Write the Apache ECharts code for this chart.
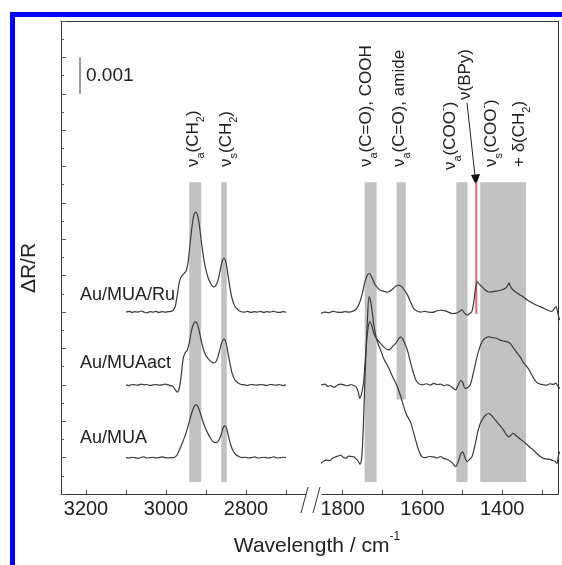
<!DOCTYPE html>
<html>
<head>
<meta charset="utf-8">
<script src="https://cdn.jsdelivr.net/npm/echarts@6/dist/echarts.min.js"></script>
<style>
  html, body { margin: 0; padding: 0; background: #fff; }
  #main { width: 562px; height: 565px; }
</style>
</head>
<body>
<div id="main"></div>
<script>
// spectra, [wavenumber, dR/R in units of 0.001], offset per sample
const ruLeft = [[3100,5.00],[3092,5.02],[3085,4.99],[3078,5.01],[3070,5.00],[3062,5.03],[3055,5.00],[3048,4.98],[3040,5.01],[3032,5.00],[3025,5.02],[3018,4.99],[3010,5.01],[3002,5.00],[2995,5.01],[2988,5.02],[2982,5.05],[2977,5.15],[2972,5.45],[2967,5.8],[2962,5.97],[2956,6.05],[2950,6.12],[2945,6.35],[2940,6.85],[2935,7.35],[2930,7.68],[2925,7.75],[2920,7.6],[2915,7.25],[2910,6.8],[2905,6.42],[2900,6.15],[2895,5.95],[2890,5.82],[2885,5.73],[2880,5.69],[2875,5.74],[2870,5.88],[2865,6.12],[2860,6.38],[2855,6.48],[2850,6.36],[2845,6.02],[2840,5.66],[2835,5.38],[2828,5.16],[2820,5.06],[2812,5.01],[2804,5.00],[2796,5.02],[2788,4.99],[2780,5.01],[2772,5.00],[2764,5.02],[2756,4.99],[2748,5.01],[2740,5.00],[2732,5.02],[2724,5.00],[2716,4.99],[2708,5.01],[2700,5.00]];
const actLeft = [[3100,3.00],[3092,2.98],[3085,3.01],[3078,3.00],[3070,2.99],[3062,3.02],[3055,3.00],[3048,3.01],[3040,2.98],[3032,3.00],[3025,3.01],[3018,2.99],[3010,3.00],[3002,3.02],[2995,3.00],[2988,2.98],[2982,2.95],[2977,2.87],[2972,2.80],[2967,2.90],[2962,3.25],[2957,3.72],[2952,3.88],[2947,3.95],[2942,4.15],[2937,4.45],[2932,4.65],[2926,4.73],[2920,4.62],[2915,4.38],[2910,4.12],[2905,3.93],[2900,3.80],[2893,3.70],[2886,3.63],[2880,3.60],[2875,3.64],[2870,3.78],[2865,3.98],[2860,4.18],[2855,4.26],[2850,4.16],[2845,3.88],[2840,3.58],[2835,3.33],[2828,3.14],[2820,3.05],[2812,3.01],[2804,3.00],[2796,2.98],[2788,3.01],[2780,3.00],[2772,2.99],[2764,3.01],[2756,3.00],[2748,2.98],[2740,3.01],[2732,3.00],[2724,2.99],[2716,3.01],[2708,2.98],[2700,3.00]];
const muaLeft = [[3100,1.00],[3092,0.99],[3085,1.01],[3078,1.00],[3070,0.98],[3062,1.01],[3055,1.02],[3048,0.99],[3040,1.00],[3032,1.01],[3025,0.99],[3018,1.00],[3010,1.02],[3002,1.00],[2995,0.99],[2988,1.00],[2982,1.00],[2977,1.02],[2972,1.08],[2966,1.22],[2960,1.38],[2954,1.55],[2948,1.75],[2942,1.98],[2936,2.22],[2930,2.40],[2925,2.45],[2920,2.40],[2914,2.22],[2908,2.00],[2902,1.82],[2896,1.68],[2890,1.56],[2884,1.46],[2878,1.41],[2872,1.42],[2866,1.52],[2861,1.68],[2856,1.85],[2852,1.87],[2848,1.78],[2843,1.55],[2838,1.34],[2832,1.18],[2825,1.08],[2818,1.03],[2810,1.00],[2802,1.01],[2794,0.99],[2786,1.00],[2778,1.02],[2770,0.99],[2762,1.00],[2754,1.01],[2746,0.99],[2738,1.00],[2730,1.02],[2722,0.99],[2714,1.00],[2706,1.01],[2700,1.00]];

const ruRight = [[1855,4.96],[1845,5.00],[1835,4.98],[1825,5.02],[1815,5.00],[1805,4.99],[1795,5.01],[1785,5.00],[1775,5.02],[1766,5.08],[1758,5.25],[1750,5.55],[1744,5.85],[1738,6.02],[1733,6.06],[1727,5.95],[1720,5.78],[1712,5.66],[1705,5.60],[1697,5.57],[1690,5.55],[1684,5.56],[1676,5.62],[1668,5.70],[1660,5.74],[1652,5.70],[1645,5.60],[1638,5.48],[1630,5.28],[1622,5.10],[1614,5.03],[1605,5.00],[1595,5.02],[1585,5.00],[1575,4.99],[1565,5.03],[1555,5.05],[1545,5.04],[1535,5.00],[1525,4.96],[1515,4.97],[1507,5.02],[1501,5.06],[1495,4.98],[1488,4.92],[1481,4.96],[1476,5.02],[1471,5.3],[1466,5.72],[1462,5.83],[1457,5.76],[1451,5.70],[1444,5.62],[1436,5.56],[1428,5.55],[1420,5.57],[1412,5.58],[1405,5.60],[1398,5.62],[1391,5.66],[1386,5.74],[1383,5.80],[1379,5.70],[1374,5.62],[1366,5.55],[1358,5.49],[1348,5.42],[1338,5.34],[1328,5.27],[1318,5.21],[1305,5.15],[1295,5.10],[1285,5.05],[1276,5.02],[1270,5.08],[1265,5.15],[1260,4.95],[1256,4.78]];
const actRight = [[1855,3.00],[1845,3.02],[1837,2.96],[1830,2.98],[1822,2.93],[1814,2.99],[1806,3.02],[1797,3.00],[1788,2.97],[1780,3.01],[1772,2.98],[1766,2.94],[1761,2.80],[1757,2.63],[1753,2.75],[1748,3.04],[1744,3.6],[1740,4.2],[1736,4.6],[1732,4.73],[1727,4.62],[1722,4.42],[1714,4.25],[1705,4.14],[1696,4.03],[1690,3.98],[1684,3.96],[1676,4.04],[1667,4.15],[1660,4.26],[1655,4.32],[1649,4.25],[1643,4.10],[1638,3.96],[1630,3.62],[1622,3.30],[1616,3.12],[1608,3.02],[1600,3.00],[1590,3.03],[1580,2.99],[1572,3.04],[1563,3.01],[1555,3.02],[1546,2.98],[1538,3.00],[1530,2.97],[1522,2.90],[1517,2.86],[1511,2.98],[1504,3.12],[1499,3.06],[1493,2.90],[1487,2.92],[1480,3.00],[1474,3.25],[1467,3.59],[1460,3.90],[1451,4.18],[1443,4.28],[1434,4.32],[1425,4.30],[1415,4.28],[1405,4.23],[1395,4.20],[1387,4.18],[1380,4.14],[1372,4.02],[1364,3.90],[1355,3.77],[1347,3.62],[1338,3.50],[1330,3.36],[1322,3.20],[1313,3.06],[1305,3.02],[1296,3.00],[1288,2.99],[1280,3.03],[1272,3.01],[1266,3.05],[1260,2.96],[1255,2.90]];
const muaRight = [[1855,0.84],[1848,0.90],[1840,0.93],[1832,0.92],[1826,0.98],[1818,1.02],[1810,1.05],[1805,1.07],[1798,1.00],[1792,0.98],[1785,1.04],[1778,1.03],[1772,1.02],[1766,0.96],[1761,0.90],[1757,0.82],[1753,0.95],[1750,1.4],[1746,2.6],[1742,3.8],[1738,4.8],[1734,5.42],[1730,5.30],[1726,5.00],[1722,4.65],[1718,4.40],[1712,4.15],[1705,3.96],[1697,3.72],[1690,3.58],[1684,3.45],[1676,3.25],[1668,3.07],[1663,2.95],[1655,2.70],[1647,2.40],[1640,2.18],[1630,1.98],[1623,1.72],[1617,1.48],[1610,1.22],[1601,1.02],[1592,1.00],[1583,1.03],[1572,1.02],[1563,0.99],[1555,1.03],[1547,0.98],[1538,0.95],[1530,0.90],[1524,0.84],[1517,0.75],[1510,0.90],[1504,1.10],[1499,1.16],[1494,1.02],[1488,0.89],[1482,0.95],[1476,1.02],[1468,1.35],[1461,1.72],[1455,1.94],[1447,2.10],[1440,2.18],[1434,2.22],[1427,2.16],[1417,2.03],[1407,1.90],[1397,1.76],[1390,1.64],[1384,1.57],[1378,1.62],[1372,1.67],[1365,1.60],[1358,1.54],[1351,1.48],[1340,1.38],[1330,1.28],[1322,1.21],[1312,1.10],[1305,1.04],[1297,0.98],[1288,0.96],[1280,0.95],[1276,0.93],[1268,0.90],[1263,0.84],[1259,1.05],[1256,1.16]];

// shaded bands: [from, to, bottom, top]
const bandsLeft = [[2942,2912,0.33,8.57],[2862,2848,0.33,8.57]];
const bandsRight = [[1745,1715,0.33,8.57],[1665,1642,2.6,8.57],[1515,1487,0.33,8.57],[1455,1340,0.33,8.57]];
const bpyLine = [[1465,4.95],[1465,8.57]];
const scaleBar = [[3215,11.0],[3215,12.0]];

const leftTicks = [2700, 2800, 2900, 3000, 3100, 3200];
const leftLabels = [2800, 3000, 3200];
const rightTicks = [1300, 1400, 1500, 1600, 1700, 1800];
const rightLabels = [1400, 1600, 1800];
const sampleNames = ['Au/MUA/Ru', 'Au/MUAact', 'Au/MUA'];

const FONT = '"Liberation Sans", Arial, sans-serif';
const LINE = '#3a3a3a';
const chart = echarts.init(document.getElementById('main'));

function bandItem(params, api) {
  const p0 = api.coord([api.value(0), api.value(3)]);
  const p1 = api.coord([api.value(1), api.value(2)]);
  return {
    type: 'rect',
    shape: { x: Math.min(p0[0], p1[0]), y: p0[1], width: Math.abs(p1[0] - p0[0]), height: p1[1] - p0[1] },
    style: { fill: '#c2c2c2' }
  };
}

function spectrum(data, idx) {
  return {
    type: 'line', data: data, xAxisIndex: idx, yAxisIndex: idx,
    showSymbol: false, smooth: 0.3, z: 3,
    lineStyle: { color: LINE, width: 1.2 }
  };
}

function xAxisFor(idx, min, max, ticks, labels) {
  return {
    gridIndex: idx, type: 'value', inverse: true, min: min, max: max,
    axisLine: { onZero: false, lineStyle: { color: '#333', width: 1 } },
    axisTick: { inside: true, length: 4, customValues: ticks, lineStyle: { color: '#555' } },
    axisLabel: { customValues: labels, formatter: v => String(v), fontSize: 20, margin: 5, color: '#222', fontFamily: FONT },
    splitLine: { show: false }
  };
}

// sub/superscripts shifted inside a taller line box
const rich = {
  sub: { fontSize: 11, lineHeight: 11, fontFamily: FONT, verticalAlign: 'bottom', fill: '#222' },
  sup: { fontSize: 11, lineHeight: 11, fontFamily: FONT, verticalAlign: 'top', fill: '#222' }
};

function txt(x, y, text, size, opts) {
  return Object.assign({
    type: 'text', x: x, y: y, z: 10,
    style: {
      text: text, font: size + 'px ' + FONT, fill: '#222', rich: rich, lineHeight: size + 9,
      align: 'left', verticalAlign: 'middle', textAlign: 'left', textVerticalAlign: 'middle'
    }
  }, opts || {});
}

function vtxt(x, y, text) {
  return txt(x, y, text, 17, { rotation: Math.PI / 2 });
}

chart.setOption({
  animation: false,
  backgroundColor: '#fff',
  grid: [
    { left: 61, top: 21, width: 245, height: 473 },
    { left: 322, top: 21, width: 236, height: 473 },
    { left: 61, top: 21, width: 497, height: 473 }
  ],
  xAxis: [
    xAxisFor(0, 2650, 3262.5, leftTicks, leftLabels),
    xAxisFor(1, 1260, 1852, rightTicks, rightLabels),
    { gridIndex: 2, type: 'value', position: 'top', min: 0, max: 1,
      axisLine: { onZero: false, lineStyle: { color: '#333' } },
      axisTick: { show: false }, axisLabel: { show: false }, splitLine: { show: false } }
  ],
  yAxis: [
    { gridIndex: 0, type: 'value', min: 0, max: 13, interval: 1,
      axisLine: { show: true, onZero: false, lineStyle: { color: '#333' } },
      axisTick: { show: true, inside: true, length: 5, lineStyle: { color: '#555' } },
      minorTick: { show: true, splitNumber: 2, length: 3, lineStyle: { color: '#555' } },
      axisLabel: { show: false }, splitLine: { show: false } },
    { gridIndex: 1, type: 'value', min: 0, max: 13, show: false },
    { gridIndex: 2, type: 'value', position: 'right', min: 0, max: 1,
      axisLine: { show: true, onZero: false, lineStyle: { color: '#333' } },
      axisTick: { show: false }, axisLabel: { show: false }, splitLine: { show: false } }
  ],
  series: [
    { type: 'custom', xAxisIndex: 0, yAxisIndex: 0, data: bandsLeft, renderItem: bandItem, z: 1, encode: { x: [0, 1], y: [2, 3] } },
    { type: 'custom', xAxisIndex: 1, yAxisIndex: 1, data: bandsRight, renderItem: bandItem, z: 1, encode: { x: [0, 1], y: [2, 3] } },
    spectrum(ruLeft, 0), spectrum(actLeft, 0), spectrum(muaLeft, 0),
    spectrum(ruRight, 1), spectrum(actRight, 1), spectrum(muaRight, 1),
    { type: 'line', data: bpyLine, xAxisIndex: 1, yAxisIndex: 1, showSymbol: false, z: 2,
      lineStyle: { color: '#e46a6a', width: 2 } },
    { type: 'line', data: scaleBar, xAxisIndex: 0, yAxisIndex: 0, showSymbol: false, z: 2,
      lineStyle: { color: '#777', width: 1.5 } }
  ],
  graphic: [
    // blue frame
    { type: 'rect', shape: { x: 10, y: 12, width: 5, height: 553 }, style: { fill: '#0000ff' } },
    { type: 'rect', shape: { x: 10, y: 12, width: 552, height: 5 }, style: { fill: '#0000ff' } },
    // axis break
    { type: 'line', shape: { x1: 301, y1: 513, x2: 308, y2: 487 }, style: { stroke: '#333', lineWidth: 1 } },
    { type: 'line', shape: { x1: 313, y1: 513, x2: 320, y2: 487 }, style: { stroke: '#333', lineWidth: 1 } },
    // arrow to BPy line
    { type: 'line', shape: { x1: 467, y1: 103, x2: 475, y2: 176 }, style: { stroke: '#222', lineWidth: 1 } },
    { type: 'polygon', shape: { points: [[471, 175], [480, 174], [476, 185]] }, style: { fill: '#111' } },
    txt(86, 76, '0.001', 19),
    txt(80, 295, sampleNames[0], 18),
    txt(80, 363, sampleNames[1], 18),
    txt(80, 438, sampleNames[2], 18),
    txt(29, 268, 'ΔR/R', 21, { rotation: Math.PI / 2, style: { text: 'ΔR/R', font: '21px ' + FONT, fill: '#222', align: 'center', verticalAlign: 'middle', textAlign: 'center', textVerticalAlign: 'middle' } }),
    txt(317, 546, 'Wavelength / cm{sup|-1}', 21, { style: { text: 'Wavelength / cm{sup|-1}', font: '21px ' + FONT, fill: '#222', lineHeight: 30, rich: { sup: { fontSize: 12, lineHeight: 12, fontFamily: FONT, verticalAlign: 'top', fill: '#222' } }, align: 'center', verticalAlign: 'middle', textAlign: 'center', textVerticalAlign: 'middle' } }),
    vtxt(193, 167, 'ν{sub|a}(CH{sub|2})'),
    vtxt(226, 167, 'ν{sub|s}(CH{sub|2})'),
    vtxt(366, 167, 'ν{sub|a}(C=O), COOH'),
    vtxt(399, 167, 'ν{sub|a}(C=O), amide'),
    vtxt(450, 170, 'ν{sub|a}(COO{sup|-})'),
    vtxt(465, 100, 'ν(BPy)'),
    vtxt(491, 167, 'ν{sub|s}(COO{sup|-})'),
    vtxt(519, 167, '+ δ(CH{sub|2})')
  ]
});
</script>
</body>
</html>
